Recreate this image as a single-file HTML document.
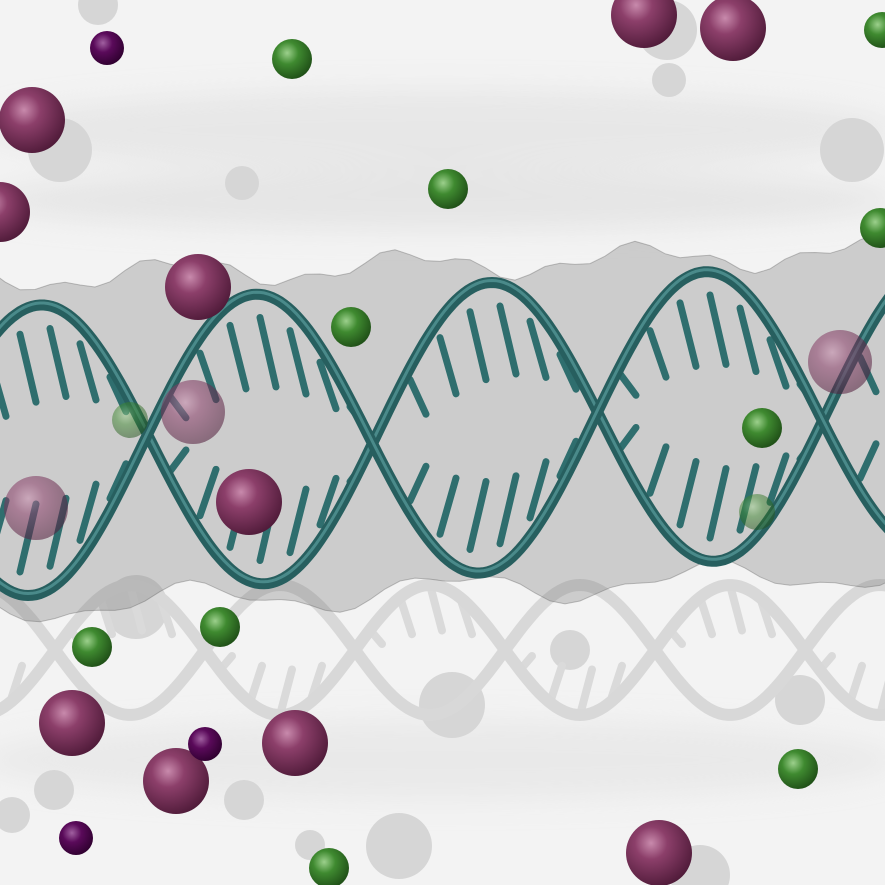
<!DOCTYPE html>
<html><head><meta charset="utf-8"><style>
html,body{margin:0;padding:0;background:#f3f3f3;}
svg{display:block}
</style></head><body>
<svg id="scene" width="885" height="885" viewBox="0 0 885 885" xmlns="http://www.w3.org/2000/svg">
<defs>
<filter id="blur" x="-50%" y="-50%" width="200%" height="200%"><feGaussianBlur stdDeviation="14"/></filter>
<radialGradient id="gP" cx="0.38" cy="0.35" r="0.7"><stop offset="0" stop-color="#c88aac"/><stop offset="0.35" stop-color="#8c3f6a"/><stop offset="1" stop-color="#4e1a38"/></radialGradient>
<radialGradient id="gD" cx="0.38" cy="0.35" r="0.7"><stop offset="0" stop-color="#a060a0"/><stop offset="0.4" stop-color="#5a0a5a"/><stop offset="1" stop-color="#2e002e"/></radialGradient>
<radialGradient id="gG" cx="0.38" cy="0.35" r="0.7"><stop offset="0" stop-color="#9cd08c"/><stop offset="0.4" stop-color="#3f8a30"/><stop offset="1" stop-color="#1e4d16"/></radialGradient>
</defs>
<rect width="885" height="885" fill="#f3f3f3"/>
<g id="bgblur" filter="url(#blur)" opacity="0.5">
<ellipse cx="440" cy="130" rx="460" ry="40" fill="#dcdcdc"/>
<ellipse cx="440" cy="200" rx="460" ry="30" fill="#d8d8d8"/>
<ellipse cx="440" cy="760" rx="460" ry="40" fill="#e0e0e0"/>
</g>
<g id="shadows"></g>
<g id="shadowHelix"></g>
<path id="surface" fill="rgba(120,120,120,0.32)" stroke="rgba(90,90,90,0.35)" stroke-width="1"/>
<g id="helix"></g>
<g id="ions"></g>
</svg>
<script>
const NS="http://www.w3.org/2000/svg";
const shadowSpheres=[[98,5,20],[60,150,32],[242,183,17],[669,80,17],[852,150,32],[667,30,30],[136,607,32],[452,705,33],[54,790,20],[244,800,20],[399,846,33],[700,875,30],[310,845,15],[12,815,18],[570,650,20],[800,700,25]];
const purpleBig=[[644,15,33,1],[733,28,33,1],[32,120,33,1],[0,212,30,1],[198,287,33,1],[193,412,32,0.55],[249,502,33,1],[36,508,32,0.55],[840,362,32,0.55],[72,723,33,1],[295,743,33,1],[176,781,33,1],[659,853,33,1]];
const purpleSmall=[[107,48,17],[205,744,17],[76,838,17]];
const greens=[[292,59,20,1],[448,189,20,1],[351,327,20,1],[880,228,20,1],[882,30,18,1],[130,420,18,0.5],[762,428,20,1],[757,512,18,0.5],[220,627,20,1],[92,647,20,1],[798,769,20,1],[329,868,20,1]];
function mk(tag,attrs,parent){const e=document.createElementNS(NS,tag);for(const k in attrs)e.setAttribute(k,attrs[k]);parent.appendChild(e);return e;}
const sh=document.getElementById('shadows');
shadowSpheres.forEach(s=>{const c=mk('circle',{cx:s[0],cy:s[1],r:s[2],fill:'#d6d6d6'},sh);

});
function yA(x){return 430-145*Math.cos(2*Math.PI*(x-40)/450)-0.05*(x-440);}
function yB(x){return 430-145*Math.cos(2*Math.PI*(x-255)/450)-0.05*(x-440);}
function sA(x){return 650-65*Math.cos(2*Math.PI*(x-130)/300);}
function sB(x){return 650-65*Math.cos(2*Math.PI*(x-280)/300);}
function pathOf(f,x0,x1){let d='';for(let x=x0;x<=x1;x+=4)d+=(d?'L':'M')+x+','+f(x).toFixed(1);return d;}
const shg=document.getElementById('shadowHelix');
for(let x=-20;x<=900;x+=30){const a=sA(x),b=sB(x);const l=mk('line',{x1:x,y1:a,x2:x+12,y2:a+(b-a)*0.35,stroke:'#dadada','stroke-width':8,'stroke-linecap':'round'},shg);

}
[sA,sB].forEach(f=>{const p=mk('path',{d:pathOf(f,-20,900),fill:'none',stroke:'#d8d8d8','stroke-width':12},shg);

});
let surfTop='',surfBot='';
for(let x=-10;x<=895;x+=15){const t=265-0.03*(x-440)+12*Math.sin(x/37)+6*Math.sin(x/13);surfTop+=(surfTop?'L':'M')+x+','+t.toFixed(1);}
for(let x=895;x>=-10;x-=15){const b=590-0.04*(x-440)+14*Math.sin(x/41)+6*Math.sin(x/17);surfBot+='L'+x+','+b.toFixed(1);}
document.getElementById('surface').setAttribute('d',surfTop+surfBot+'Z');
const hg=document.getElementById('helix');
for(let x=-10;x<=895;x+=30){const a=yA(x),b=yB(x);if(Math.abs(a-b)<60)continue;
[[a,b],[b,a]].forEach(([p,q])=>{const l=mk('line',{x1:x,y1:p+(q-p)*0.08,x2:x+16,y2:p+(q-p)*0.32,stroke:'#2f6e6e','stroke-width':7,'stroke-linecap':'round'},hg);

});}
[yA,yB].forEach(f=>{const p=mk('path',{d:pathOf(f,-20,900),fill:'none',stroke:'#275f5f','stroke-width':11},hg);


const p2=mk('path',{d:pathOf(f,-20,900),fill:'none',stroke:'#4a8a8a','stroke-width':3,transform:'translate(0,-2)'},hg);

});
const ig=document.getElementById('ions');
purpleBig.forEach(s=>{const c=mk('circle',{cx:s[0],cy:s[1],r:s[2],fill:'url(#gP)',opacity:s[3]},ig);

});
purpleSmall.forEach(s=>{const c=mk('circle',{cx:s[0],cy:s[1],r:s[2],fill:'url(#gD)'},ig);

});
greens.forEach(s=>{const c=mk('circle',{cx:s[0],cy:s[1],r:s[2],fill:'url(#gG)',opacity:s[3]},ig);

});
</script>
</body></html>
